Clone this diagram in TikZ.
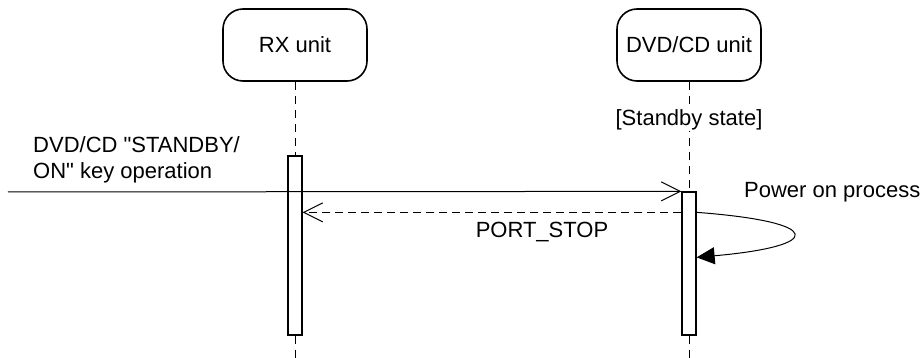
\documentclass[tikz,border=0pt]{standalone}
\usepackage{fontspec}
\setmainfont{Liberation Sans}
\usetikzlibrary{positioning,calc}
\usetikzlibrary{arrows.meta}
\tikzset{
  unit/.style={draw=black,rounded corners=20pt,line width=1.6pt,
    minimum width=144pt,minimum height=72pt,inner sep=0pt,font=\fontsize{22pt}{26pt}\selectfont},
  bar/.style={draw=black,fill=white,line width=1.3pt,minimum width=14pt,inner sep=0pt},
  lifeline/.style={draw=black,line width=1pt,dash pattern=on 8pt off 6pt},
  lab/.style={inner sep=1pt,font=\fontsize{22pt}{26pt}\selectfont},
}
\tikzset{msg/.style={line width=1pt,-{Straight Barb[length=19pt,width=19pt,line width=1pt]}},
  reply/.style={msg,dash pattern=on 8pt off 5pt},
  selfcall/.style={line width=1pt,-{Triangle[length=18pt,width=17pt]}}}

\begin{document}
\begin{tikzpicture}[x=1pt,y=-1pt]
\useasboundingbox (0,0) rectangle (921,358);
\node[unit] (rx) at (295,45) {RX unit};
\node[unit] (dvd) at (689,45) {DVD/CD unit};
\coordinate (rxend) at (295,358);
\coordinate (dvdend) at (689,358);
\node[bar,minimum height=179pt] (rxbar) at (295,245.5) {};
\node[bar,minimum height=143pt] (dvdbar) at (689,263.5) {};
\draw[lifeline] (rx.south) -- (rxbar.north);
\draw[lifeline] (rxbar.south) -- (rxend);
\draw[lifeline] (dvd.south) -- (dvdbar.north);
\draw[lifeline] (dvdbar.south) -- (dvdend);
\node[lab,fill=white] (standby) at (689,120) {[Standby state]};
% key operation
\coordinate (keyin) at (8,192);
\node[lab,anchor=west,align=left] (keylab) at (32,160)
  {DVD/CD \textquotedbl STANDBY/\\ON\textquotedbl{} key operation};
\draw[msg] (keyin) -- (dvdbar.north west);
% reply
\coordinate (stopfrom) at ($(dvdbar.north west)+(0,21)$);
\coordinate (stopto) at ($(rxbar.north east)+(0,57)$);
\draw[reply] (stopfrom) -- (stopto);
\node[lab] (stoplab) at (542,232) {PORT\_STOP};
% power on
\coordinate (powfrom) at ($(dvdbar.north east)+(0,21)$);
\coordinate (powto) at ($(dvdbar.north east)+(0,66)$);
\draw[selfcall] (powfrom) .. controls (825,222) and (825,246) .. (powto);
\node[lab,anchor=west] (powlab) at (743,192) {Power on process};
\end{tikzpicture}
\end{document}
